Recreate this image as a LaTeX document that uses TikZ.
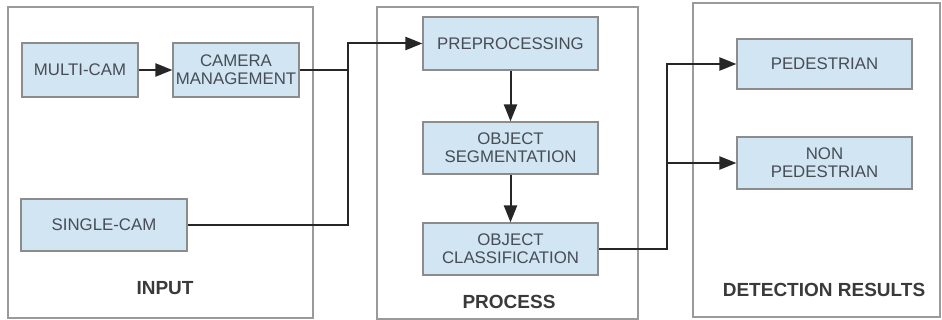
\documentclass[tikz,border=0pt]{standalone}
\usepackage{fontspec}
\setmainfont{Liberation Sans}
\usetikzlibrary{arrows.meta}
\definecolor{boxfill}{HTML}{D2E5F3}
\definecolor{boxline}{HTML}{8C8C8C}
\definecolor{boxtext}{HTML}{474C55}
\definecolor{panelline}{HTML}{9A9A9A}
\definecolor{labeltext}{HTML}{3A3A3A}

\begin{document}
\begin{tikzpicture}[x=1pt,y=-1pt,>={Triangle[length=17pt,width=13pt]},
    box/.style={rectangle,draw=boxline,line width=1.1pt,fill=boxfill,inner sep=0pt,align=center,text=boxtext,font=\fontsize{16.8}{18}\selectfont},
    panel/.style={rectangle,draw=panelline,line width=1.1pt,inner sep=0pt},
    title/.style={font=\fontsize{19}{22}\selectfont\bfseries,text=labeltext},
    link/.style={line width=2pt,draw=black!85}]
\useasboundingbox (0,0) rectangle (942,320);
% panels
\node[panel,minimum width=305pt,minimum height=311pt] (inpanel) at (160.5,162.5) {};
\node[panel,minimum width=261pt,minimum height=312pt] (propanel) at (507.5,163) {};
\node[panel,minimum width=247pt,minimum height=314pt] (detpanel) at (816.5,160) {};
\node[title] (inlabel) at (165,288) {INPUT};
\node[title] (prolabel) at (509,302) {PROCESS};
\node[title] (detlabel) at (824,290) {DETECTION RESULTS};
% boxes
\node[box,minimum width=116pt,minimum height=54pt] (multi) at (80,70) {MULTI-CAM};
\node[box,minimum width=126pt,minimum height=54pt] (cam) at (236,70) {CAMERA\\MANAGEMENT};
\node[box,minimum width=166pt,minimum height=52pt] (single) at (104,225) {SINGLE-CAM};
\node[box,minimum width=175pt,minimum height=53pt] (pre) at (510.5,43.5) {PREPROCESSING};
\node[box,minimum width=175pt,minimum height=52pt] (seg) at (510.5,148) {OBJECT\\SEGMENTATION};
\node[box,minimum width=175pt,minimum height=52pt] (cls) at (510.5,249) {OBJECT\\CLASSIFICATION};
\node[box,minimum width=175pt,minimum height=50pt] (ped) at (824.5,64) {PEDESTRIAN};
\node[box,minimum width=175pt,minimum height=52pt] (nonped) at (824.5,163) {NON\\PEDESTRIAN};
% connectors
\coordinate (jin) at (348,43.5);
\coordinate (jout) at (667,64);
\draw[->,link] (multi) -- (cam);
\draw[->,link] (cam.east) -| (jin) -- (pre.west);
\draw[link] (single.east) -| (jin);
\draw[->,link] (pre) -- (seg); \draw[->,link] (seg) -- (cls);
\draw[->,link] (cls.east) -| (jout) -- (ped.west);
\draw[->,link] (jout |- nonped) -- (nonped.west);
\end{tikzpicture}
\end{document}
